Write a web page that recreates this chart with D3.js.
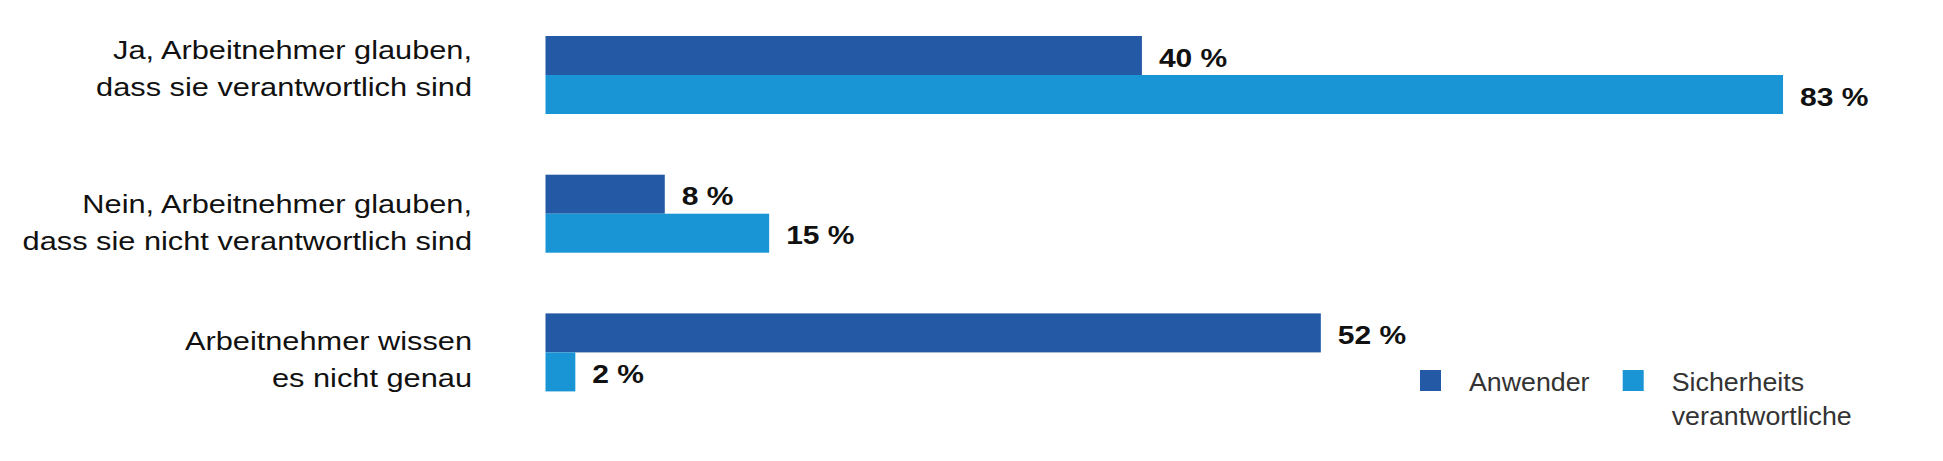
<!DOCTYPE html>
<html>
<head>
<meta charset="utf-8">
<script src="https://cdn.jsdelivr.net/npm/d3@7"></script>
<style>
  html, body { margin: 0; padding: 0; background: #fff; }
  svg { display: block; font-family: "Liberation Sans", Arial, sans-serif; }
</style>
</head>
<body>
<svg id="chart" width="1943" height="461"></svg>
<script>
// categories (each split into its two printed lines)
const categories = [
  ["Ja, Arbeitnehmer glauben,", "dass sie verantwortlich sind"],
  ["Nein, Arbeitnehmer glauben,", "dass sie nicht verantwortlich sind"],
  ["Arbeitnehmer wissen", "es nicht genau"]
];
const seriesKeys = ["anwender", "sicherheit"];
const seriesNames = [["Anwender"], ["Sicherheits", "verantwortliche"]];
const anwender = [40, 8, 52];
const sicherheit = [83, 15, 2];
const colors = ["#2359a5", "#1994d4"];

// the original labels don't sit at the same spot in every group
const labelShift = [23, 38, 37];

const svg = d3.select("#chart");

const x = d3.scaleLinear().domain([0, 100]).range([545.5, 2036.5]);
const y = d3.scaleBand()
  .domain(d3.range(categories.length))
  .range([36, 391.4])
  .paddingInner(0.4375)
  .paddingOuter(0);
const ySub = d3.scaleBand().domain(seriesKeys).range([0, y.bandwidth()]).padding(0);
const color = d3.scaleOrdinal().domain(seriesKeys).range(colors);

const rows = categories.map((c, i) => ({
  idx: i,
  lines: c,
  values: [
    { key: "anwender", v: anwender[i] },
    { key: "sicherheit", v: sicherheit[i] }
  ]
}));

// category labels, right aligned, horizontally widened like the original
const labelSx = 1.23;
svg.append("g")
  .selectAll("text")
  .data(rows)
  .join("text")
  .attr("transform", d => `translate(472,${y(d.idx) + labelShift[d.idx]}) scale(${labelSx},1)`)
  .attr("text-anchor", "end")
  .attr("font-size", 25)
  .attr("fill", "#111")
  .selectAll("tspan")
  .data(d => d.lines)
  .join("tspan")
  .attr("x", 0)
  .attr("dy", (d, i) => i === 0 ? 0 : 37)
  .text(d => d);

const g = svg.append("g")
  .selectAll("g")
  .data(rows)
  .join("g")
  .attr("transform", d => `translate(0,${y(d.idx)})`);

g.selectAll("rect")
  .data(d => d.values)
  .join("rect")
  .attr("x", x(0))
  .attr("y", d => ySub(d.key))
  .attr("width", d => x(d.v) - x(0))
  .attr("height", ySub.bandwidth())
  .attr("fill", d => color(d.key));

g.selectAll("text")
  .data(d => d.values)
  .join("text")
  .attr("transform", d => `translate(${x(d.v) + 17},${ySub(d.key) + ySub.bandwidth() / 2 + 11}) scale(1.2,1)`)
  .attr("font-size", 25)
  .attr("font-weight", "bold")
  .attr("fill", "#111")
  .text(d => d.v + " %");

// legend
const legend = svg.append("g")
  .selectAll("g")
  .data(seriesKeys)
  .join("g")
  .attr("transform", (d, i) => `translate(${1420 + i * 202.7},370)`);

legend.append("rect")
  .attr("width", 21)
  .attr("height", 21)
  .attr("fill", d => color(d));

legend.append("text")
  .attr("transform", "translate(49,20.7) scale(1.03,1)")
  .attr("font-size", 26)
  .attr("fill", "#333")
  .selectAll("tspan")
  .data((d, i) => seriesNames[i])
  .join("tspan")
  .attr("x", 0)
  .attr("dy", (d, i) => i === 0 ? 0 : 34)
  .text(d => d);
</script>
</body>
</html>
